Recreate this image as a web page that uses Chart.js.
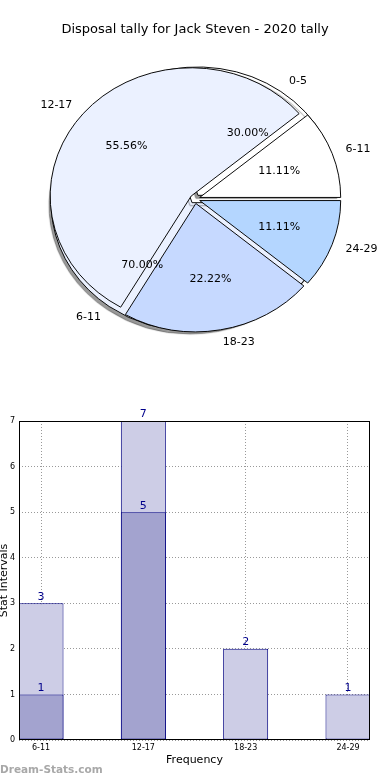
<!DOCTYPE html>
<html>
<head>
<meta charset="utf-8">
<script src="https://cdn.jsdelivr.net/npm/chart.js@4.4.0/dist/chart.umd.min.js"></script>
<style>
  body { margin: 0; background: #fff; font-family: 'DejaVu Sans', sans-serif; }
  #wrap { position: relative; width: 390px; height: 780px; overflow: hidden; }
  canvas { position: absolute; left: 0; }
  #title { position: absolute; top: 21px; left: 0; width: 390px; text-align: center; font-size: 13px; color: #000; }
  #mark { position: absolute; left: 0; top: 763px; font-size: 10.5px; font-weight: bold; color: #a8a8a8; }
</style>
</head>
<body>
<div id="wrap">
  <canvas id="backPie" width="390" height="398" style="top:0"></canvas>
  <canvas id="topPie" width="390" height="398" style="top:0"></canvas>
  <canvas id="bars" width="390" height="400" style="top:380px"></canvas>
  <div id="title">Disposal tally for Jack Steven - 2020 tally</div>
  <div id="mark">Dream-Stats.com</div>
</div>
<script>
// pie data (front pie and the one behind it)
const pieLabels = ['6-11', '12-17', '18-23', '24-29'];
const pieValues = [1, 5, 2, 1];
const pieColors = ['#ffffff', '#ebf1ff', '#c6d9ff', '#b4d6ff'];
const backLabels = ['0-5', '6-11'];
const backValues = [3, 7];
const backColors = ['#ffffff', '#ebf1ff'];

// bar data
const barLabels = ['6-11', '12-17', '18-23', '24-29'];
const totalValues = [3, 7, 2, 1];
const subValues = [1, 5, 0, 0];
const yMax = 7;

const squash = 0.91; // pie is drawn a bit flattened
const explode = 5;   // px each slice is pushed out

// push every slice out along its middle angle
const wrapArcs = (chart) => {
    chart.getDatasetMeta(0).data.forEach((arc) => {
        if (arc._wrapped) return;
        const base = arc.draw;
        arc.draw = function (ctx, area) {
            const mid = (this.startAngle + this.endAngle) / 2;
            ctx.save();
            ctx.translate(Math.cos(mid) * explode, Math.sin(mid) * explode);
            base.call(this, ctx, area);
            ctx.restore();
        };
        arc._wrapped = true;
    });
};

const ellipse = {
    id: 'ellipse',
    beforeDatasetsDraw(chart, args, opts) {
        wrapArcs(chart);
        const ctx = chart.ctx;
        const a = chart.chartArea;
        const cx = (a.left + a.right) / 2, cy = (a.top + a.bottom) / 2;
        ctx.save();
        ctx.translate(cx, cy);
        ctx.scale(1, squash);
        ctx.translate(-cx, -cy);
        if (opts.shadow) {
            ctx.shadowColor = 'rgba(0,0,0,0.4)';
            ctx.shadowOffsetX = -2;
            ctx.shadowOffsetY = 3;
            ctx.shadowBlur = 1;
        }
    },
    afterDatasetsDraw(chart) {
        chart.ctx.restore();
    }
};

const pieConfig = (labels, values, colors, shadow) => ({
    type: 'pie',
    data: {
        labels: labels.slice().reverse(),
        datasets: [{
            data: values.slice().reverse(),
            backgroundColor: colors.slice().reverse(),
            borderColor: '#000',
            borderWidth: 1,
            offset: 0
        }]
    },
    options: {
        responsive: false,
        animation: false,
        events: [],
        rotation: 90,
        radius: 141,
        plugins: {
            legend: { display: false },
            tooltip: { enabled: false },
            title: { display: false },
            ellipse: { shadow: shadow }
        }
    },
    plugins: [ellipse]
});

const backChart = new Chart(document.getElementById('backPie'), pieConfig(backLabels, backValues, backColors, true));

const drawLabels = (ctx, source) => {
    const meta = source.getDatasetMeta(0);
    const ds = source.data.datasets[0];
    const total = ds.data.reduce((a, b) => a + b, 0);
    ctx.save();
    ctx.fillStyle = '#000';
    ctx.font = '11px "DejaVu Sans"';
    ctx.textBaseline = 'middle';
    meta.data.forEach((arc, i) => {
        const mid = (arc.startAngle + arc.endAngle) / 2;
        const r = arc.outerRadius;
        const c = Math.cos(mid), s = Math.sin(mid);
        // percentage inside
        ctx.textAlign = 'center';
        const pr = 0.6 * r + explode;
        ctx.fillText((ds.data[i] / total * 100).toFixed(2) + '%', arc.x + c * pr, arc.y + s * pr * squash);
        // category outside
        ctx.textAlign = c >= 0 ? 'left' : 'right';
        const lr = 1.1 * r + explode;
        ctx.fillText(source.data.labels[i], arc.x + c * lr, arc.y + s * lr * squash);
    });
    ctx.restore();
};

new Chart(document.getElementById('topPie'), {
    ...pieConfig(pieLabels, pieValues, pieColors, false),
    plugins: [ellipse, {
        id: 'pieLabels',
        afterDraw(chart) {
            drawLabels(chart.ctx, backChart);
            drawLabels(chart.ctx, chart);
        }
    }]
});

// bar chart
const barExtras = {
    id: 'barExtras',
    afterDatasetsDraw(chart) {
        const ctx = chart.ctx;
        const a = chart.chartArea;
        ctx.save();
        ctx.strokeStyle = '#000';
        ctx.lineWidth = 1;
        ctx.strokeRect(a.left + 0.5, a.top + 0.5, a.right - a.left - 1, a.bottom - a.top - 1);

        // values above bars
        ctx.fillStyle = '#00008b';
        ctx.font = '11px "DejaVu Sans"';
        ctx.textAlign = 'center';
        ctx.textBaseline = 'bottom';
        chart.data.datasets.forEach((ds, di) => {
            chart.getDatasetMeta(di).data.forEach((bar, i) => {
                const v = ds.data[i].y;
                if (v > 0) ctx.fillText(v, bar.x, bar.y - 1);
            });
        });

        // axis titles
        ctx.fillStyle = '#000';
        ctx.font = '11px "DejaVu Sans"';
        ctx.textBaseline = 'middle';
        ctx.fillText('Frequency', (a.left + a.right) / 2, 380);
        ctx.translate(4, (a.top + a.bottom) / 2);
        ctx.rotate(-Math.PI / 2);
        ctx.fillText('Stat Intervals', 0, 0);
        ctx.restore();
    }
};

new Chart(document.getElementById('bars'), {
    type: 'bar',
    data: {
        datasets: [
            {
                data: subValues.map((v, i) => ({ x: i, y: v })),
                backgroundColor: 'rgb(163,163,207)',
                borderColor: '#000080',
                borderWidth: 1,
                borderSkipped: false,
                grouped: false,
                barPercentage: 0.44,
                categoryPercentage: 1
            },
            {
                data: totalValues.map((v, i) => ({ x: i, y: v })),
                backgroundColor: 'rgb(205,205,230)',
                borderColor: '#000080',
                borderWidth: 1,
                borderSkipped: false,
                grouped: false,
                barPercentage: 0.44,
                categoryPercentage: 1
            }
        ]
    },
    options: {
        responsive: false,
        animation: false,
        events: [],
        layout: { padding: { top: 41, right: 20, left: 0, bottom: 0 } },
        plugins: {
            legend: { display: false },
            tooltip: { enabled: false }
        },
        scales: {
            x: {
                type: 'linear',
                min: -0.215,
                max: barLabels.length - 1 + 0.215,
                offset: false,
                afterBuildTicks: (s) => { s.ticks = barLabels.map((_, i) => ({ value: i })); },
                afterFit: (s) => { s.height = 40; },
                ticks: {
                    callback: (v) => barLabels[v],
                    font: { size: 8, family: 'DejaVu Sans' },
                    color: '#000',
                    padding: 3,
                    maxRotation: 0,
                    autoSkip: false
                },
                grid: { color: '#999', drawTicks: false, offset: false },
                border: { display: false, dash: [1, 2] }
            },
            y: {
                min: 0,
                max: yMax,
                afterFit: (s) => { s.width = 19; },
                ticks: {
                    stepSize: 1,
                    font: { size: 8, family: 'DejaVu Sans' },
                    color: '#000',
                    padding: 4
                },
                grid: { color: '#999', drawTicks: false },
                border: { display: false, dash: [1, 2] }
            }
        }
    },
    plugins: [barExtras]
});
</script>
</body>
</html>
